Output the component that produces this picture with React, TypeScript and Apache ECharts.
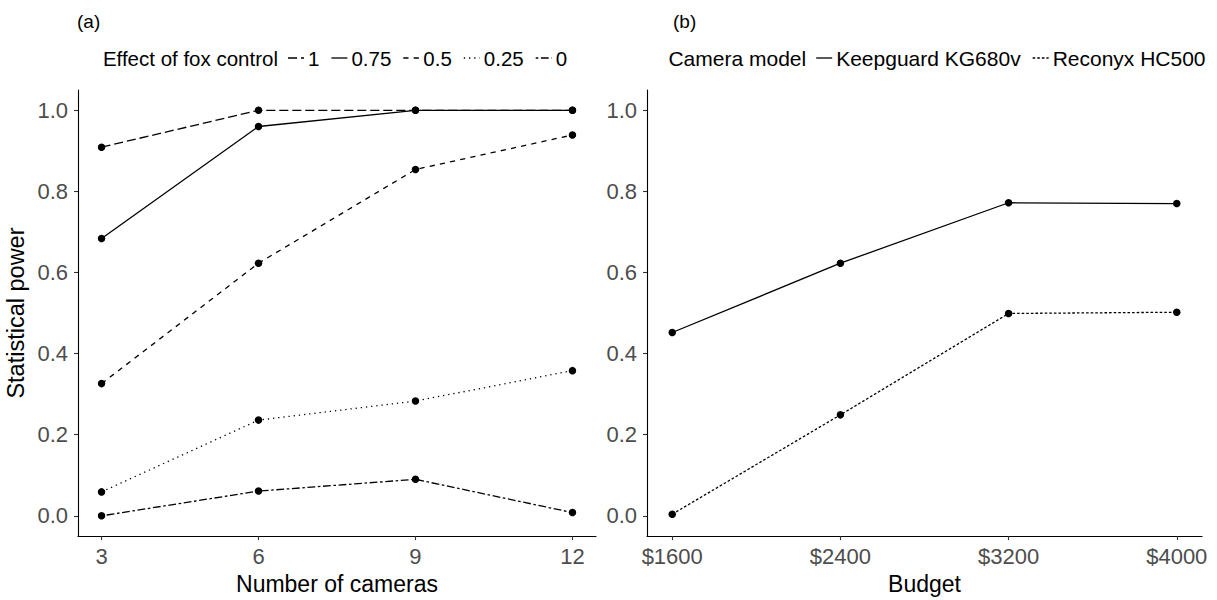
import React, { useEffect, useRef } from "react";
import * as echarts from "echarts";

// ---------- data ----------
const cameraCounts = [3, 6, 9, 12];
const effectLabels = ["1", "0.75", "0.5", "0.25", "0"];
const powerEffect1 = [0.909, 1.0, 1.0, 1.0];
const powerEffect075 = [0.684, 0.96, 1.0, 1.0];
const powerEffect05 = [0.326, 0.623, 0.854, 0.939];
const powerEffect025 = [0.059, 0.236, 0.283, 0.358];
const powerEffect0 = [0.0, 0.061, 0.09, 0.008];

const budgets = [1600, 2400, 3200, 4000];
const cameraModels = ["Keepguard KG680v", "Reconyx HC500"];
const powerKeepguard = [0.452, 0.623, 0.772, 0.77];
const powerReconyx = [0.004, 0.249, 0.499, 0.502];

const powerTicks = [0, 0.2, 0.4, 0.6, 0.8, 1.0];

// ---------- styles ----------
const FONT = "'Liberation Sans', Arial, sans-serif";
const LW = 1.3;
const dashA: (number[] | "solid")[] = [
  [9.1, 3.9],
  "solid",
  [5.2, 5.2],
  [1.3, 3.9],
  [2.6, 2.6, 7.8, 2.6],
];
const dashB: (number[] | "solid")[] = ["solid", [2.6, 2]];

function measure(text: string, size: number): number {
  const c = document.createElement("canvas").getContext("2d")!;
  c.font = `${size}px ${FONT}`;
  return c.measureText(text).width;
}

function buildLegend(
  title: string,
  labels: string[],
  dashes: (number[] | "solid")[],
  center: number,
  y: number,
  size: number
) {
  const gTitle = 10, keyW = 16, gKey = 4, gItem = 12;
  let total = measure(title, size) + gTitle;
  labels.forEach((l, i) => {
    total += keyW + gKey + measure(l, size) + (i < labels.length - 1 ? gItem : 0);
  });
  let x = center - total / 2;
  const els: any[] = [];
  els.push({
    type: "text",
    x,
    y,
    style: { text: title, font: `${size}px ${FONT}`, fill: "#000", verticalAlign: "middle", align: "left" },
  });
  x += measure(title, size) + gTitle;
  labels.forEach((l, i) => {
    const d = dashes[i];
    els.push({
      type: "line",
      shape: { x1: x, y1: y, x2: x + keyW, y2: y },
      style: { stroke: "#000", lineWidth: LW, lineDash: d === "solid" ? null : d },
    });
    x += keyW + gKey;
    els.push({
      type: "text",
      x,
      y,
      style: { text: l, font: `${size}px ${FONT}`, fill: "#000", verticalAlign: "middle", align: "left" },
    });
    x += measure(l, size) + gItem;
  });
  return els;
}

function lineSeries(name: string, xs: number[], ys: number[], dash: number[] | "solid", idx: number) {
  return {
    name,
    type: "line",
    xAxisIndex: idx,
    yAxisIndex: idx,
    data: xs.map((x, i) => [x, ys[i]]),
    symbol: "circle",
    symbolSize: 7.5,
    itemStyle: { color: "#000" },
    lineStyle: { color: "#000", width: LW, type: dash },
    emphasis: { disabled: true },
  };
}

const tickLabelStyle = { color: "#4D4D4D", fontSize: 22, fontFamily: FONT };
const axisLineStyle = { show: true, onZero: false, lineStyle: { color: "#000", width: 1.1 } };
const axisTickStyle = { show: true, length: 4, lineStyle: { color: "#333", width: 1.1 } };

export default function App() {
  const ref = useRef<HTMLDivElement>(null);
  useEffect(() => {
    if (!ref.current) return;
    const chart = echarts.init(ref.current, undefined, { renderer: "svg" });
    const seriesA = [powerEffect1, powerEffect075, powerEffect05, powerEffect025, powerEffect0];
    const seriesB = [powerKeepguard, powerReconyx];
    const yAxisCommon = (gridIndex: number) => ({
      type: "value",
      gridIndex,
      min: -0.05,
      max: 1.05,
      splitLine: { show: false },
      axisLine: axisLineStyle,
      axisTick: { ...axisTickStyle, customValues: powerTicks },
      axisLabel: {
        ...tickLabelStyle,
        margin: 10,
        customValues: powerTicks,
        formatter: (v: number) => v.toFixed(1),
      },
      name: gridIndex === 0 ? "Statistical power" : "",
      nameLocation: "middle",
      nameGap: 50,
      nameTextStyle: { color: "#000", fontSize: 23.5, fontFamily: FONT },
    });
    const option: any = {
      animation: false,
      backgroundColor: "#fff",
      grid: [
        { left: 78, top: 90, width: 518, height: 454 },
        { left: 647, top: 90, width: 555, height: 454 },
      ],
      xAxis: [
        {
          type: "value",
          gridIndex: 0,
          min: 2.55,
          max: 12.45,
          splitLine: { show: false },
          axisLine: axisLineStyle,
          axisTick: { ...axisTickStyle, customValues: cameraCounts },
          axisLabel: { ...tickLabelStyle, margin: 9, customValues: cameraCounts },
          name: "Number of cameras",
          nameLocation: "middle",
          nameGap: 33,
          nameTextStyle: { color: "#000", fontSize: 23, fontFamily: FONT },
        },
        {
          type: "value",
          gridIndex: 1,
          min: 1480,
          max: 4120,
          splitLine: { show: false },
          axisLine: axisLineStyle,
          axisTick: { ...axisTickStyle, customValues: budgets },
          axisLabel: {
            ...tickLabelStyle,
            margin: 9,
            customValues: budgets,
            formatter: (v: number) => "$" + v,
          },
          name: "Budget",
          nameLocation: "middle",
          nameGap: 33,
          nameTextStyle: { color: "#000", fontSize: 23, fontFamily: FONT },
        },
      ],
      yAxis: [yAxisCommon(0), yAxisCommon(1)],
      series: [
        ...seriesA.map((s, i) => lineSeries("Effect " + effectLabels[i], cameraCounts, s, dashA[i], 0)),
        ...seriesB.map((s, i) => lineSeries(cameraModels[i], budgets, s, dashB[i], 1)),
      ],
      graphic: [
        {
          type: "text",
          x: 77,
          y: 21,
          style: { text: "(a)", font: `19px ${FONT}`, fill: "#000", verticalAlign: "middle" },
        },
        {
          type: "text",
          x: 673,
          y: 21,
          style: { text: "(b)", font: `19px ${FONT}`, fill: "#000", verticalAlign: "middle" },
        },
        ...buildLegend("Effect of fox control", effectLabels, dashA, 335, 58, 20.5),
        ...buildLegend("Camera model", cameraModels, dashB, 937, 58, 21),
      ],
    };
    chart.setOption(option);
    return () => chart.dispose();
  }, []);
  return (
    <div
      ref={ref}
      style={{ position: "absolute", left: 0, top: 0, width: 1217, height: 600, background: "#fff" }}
    />
  );
}
